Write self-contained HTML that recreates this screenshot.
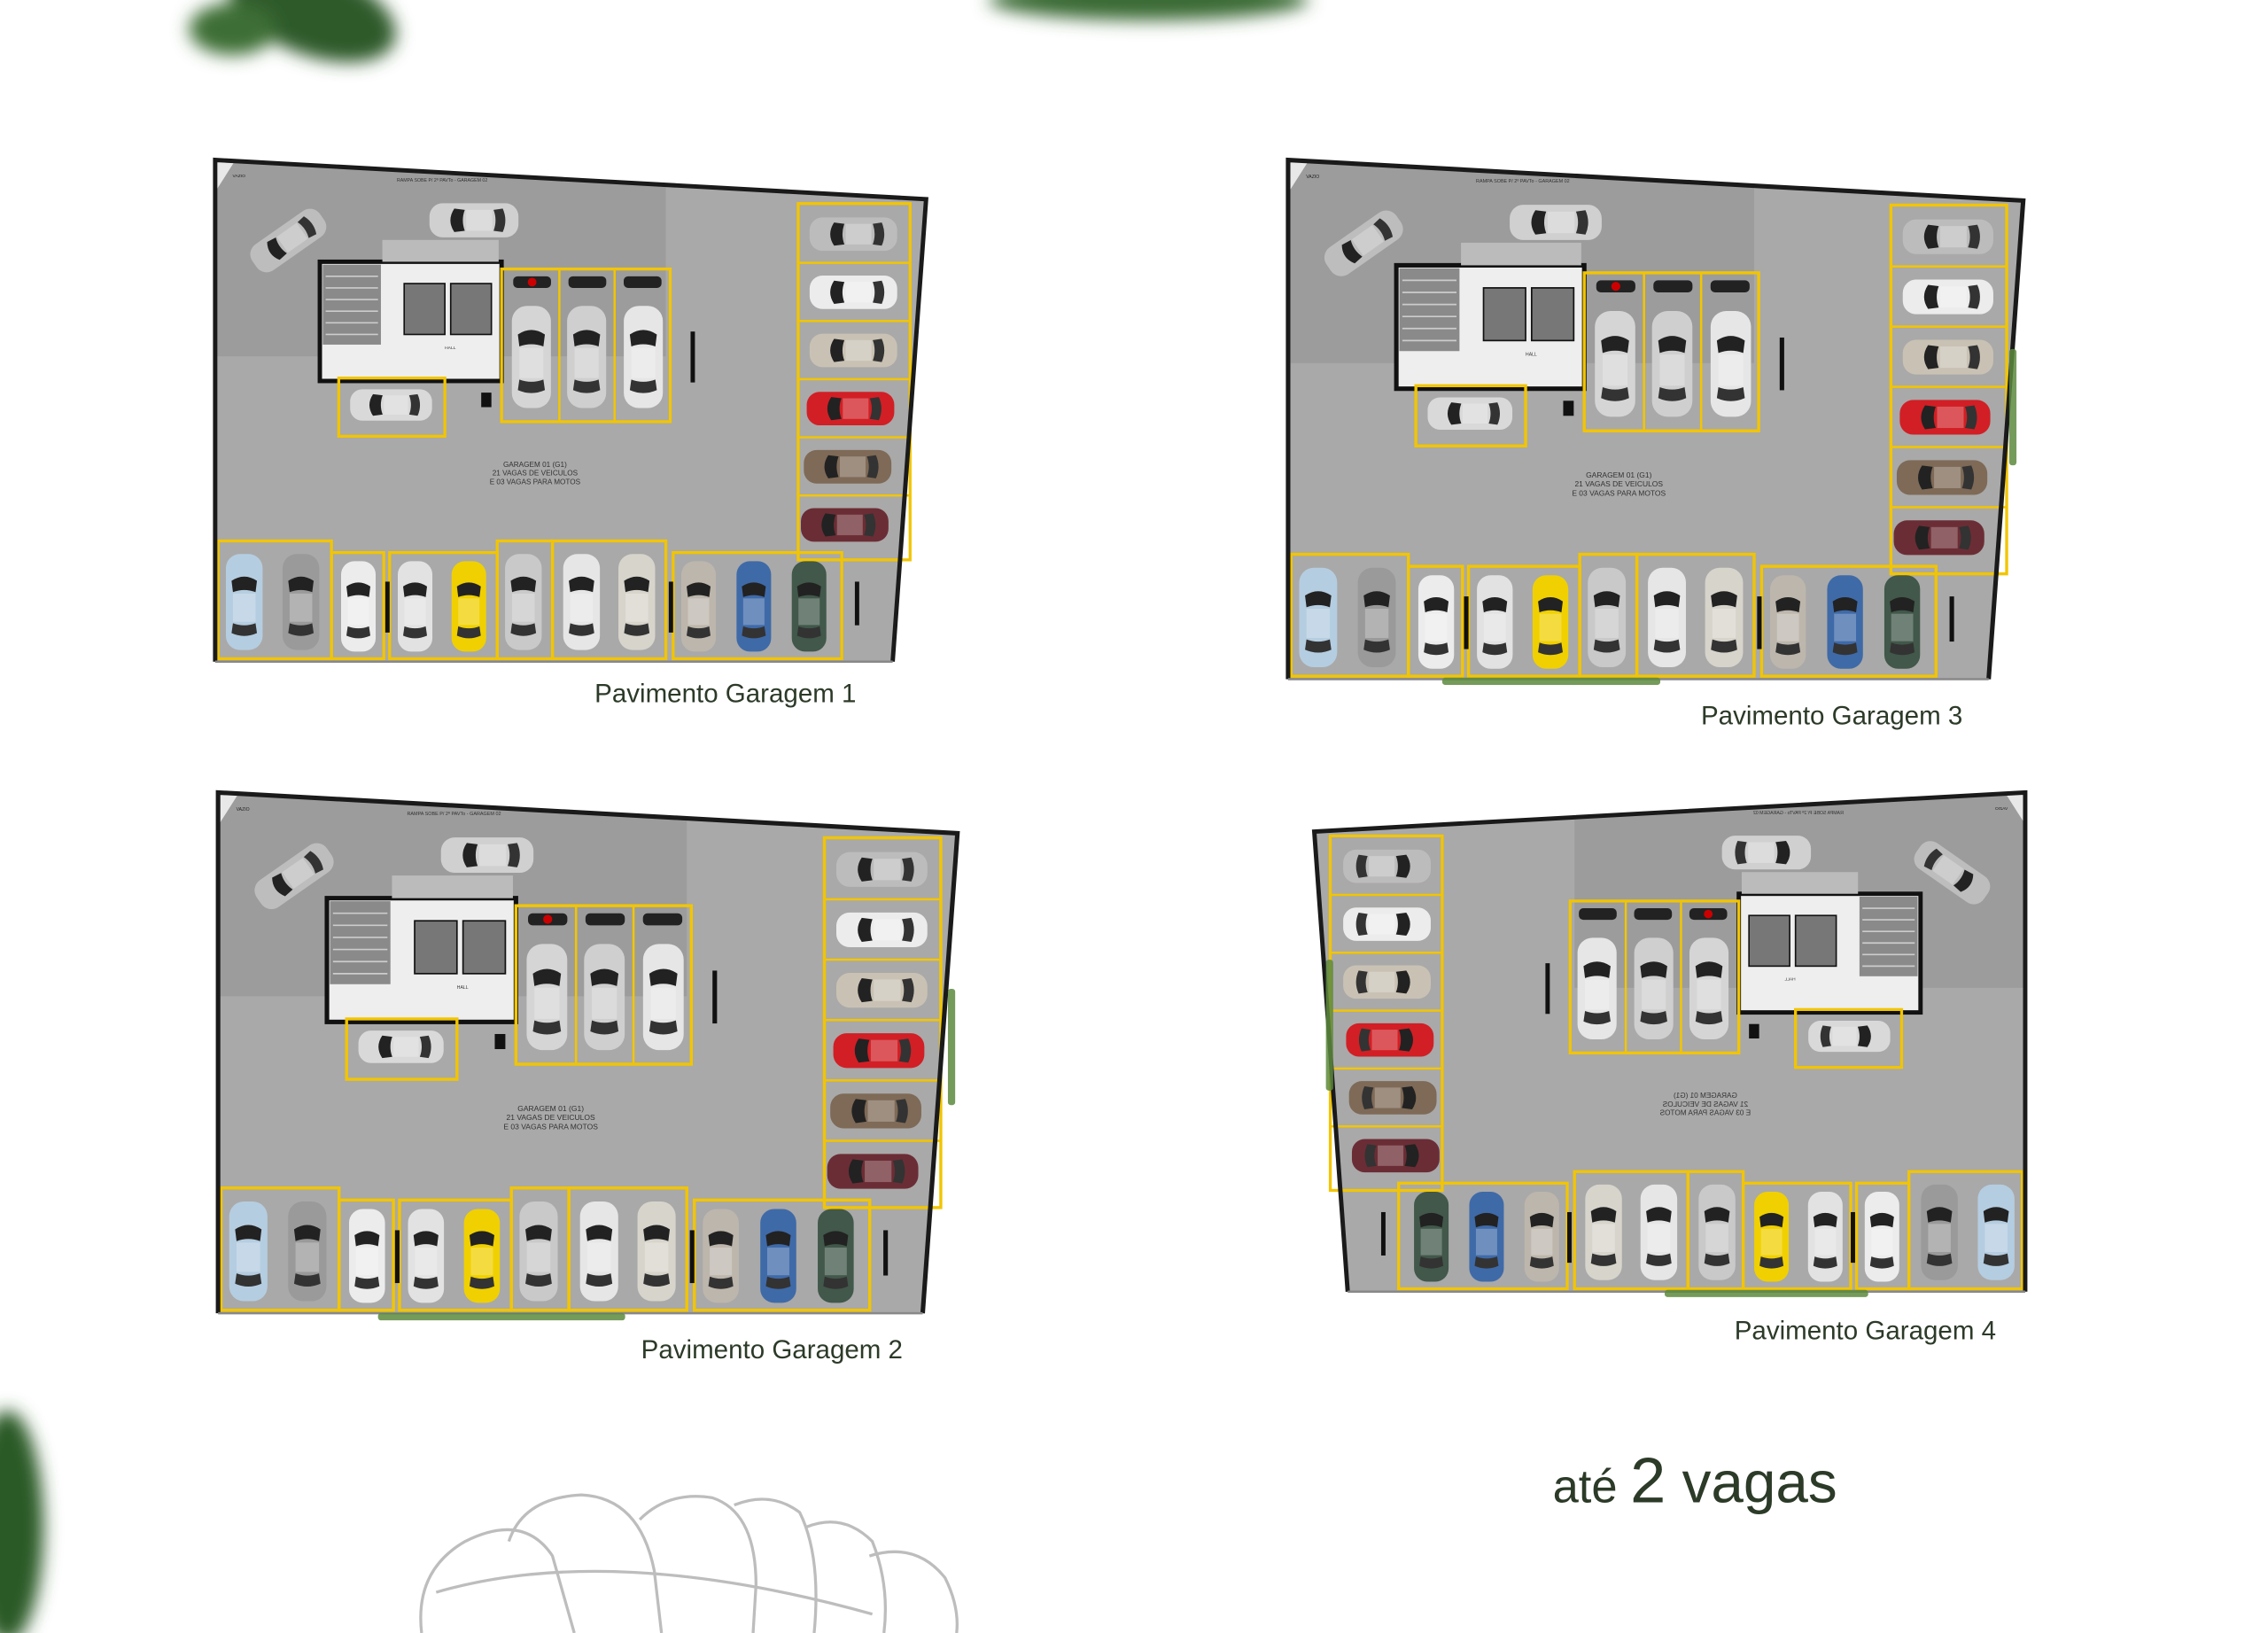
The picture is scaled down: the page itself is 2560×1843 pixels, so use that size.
<!DOCTYPE html>
<html><head><meta charset="utf-8"><style>
html,body{margin:0;padding:0;background:#fff;}
svg{display:block}
</style></head><body>
<svg width="2560" height="1843" viewBox="0 0 1560 1123" preserveAspectRatio="none" xmlns="http://www.w3.org/2000/svg">
<defs>
<filter id="bl" x="-50%" y="-50%" width="200%" height="200%"><feGaussianBlur stdDeviation="6"/></filter>
<symbol id="cv" viewBox="0 0 30 70">
 <rect x="2" y="1" width="26" height="68" rx="10"/>
 <path d="M6 20 Q15 14 24 20 L23 28 Q15 25 7 28Z" fill="#222"/>
 <path d="M7 50 Q15 53 23 50 L24 57 Q15 61 6 57Z" fill="#333"/>
 <rect x="7" y="29" width="16" height="20" fill="#fff" opacity=".25"/>
</symbol>
<symbol id="ch" viewBox="0 0 70 30">
 <rect x="1" y="2" width="68" height="26" rx="10"/>
 <path d="M20 6 Q14 15 20 24 L28 23 Q25 15 28 7Z" fill="#222"/>
 <path d="M50 7 Q53 15 50 23 L57 24 Q61 15 57 6Z" fill="#333"/>
 <rect x="29" y="7" width="20" height="16" fill="#fff" opacity=".25"/>
</symbol>
<g id="plan">
 <polygon points="0,0 489,27 466,345 0,345" fill="#a9a9a9"/>
 <polygon points="0,0 310,17 310,135 0,135" fill="#9c9c9c"/>
 <polygon points="0,0 14,0 0,22" fill="#e8e8e8"/>
 <text x="12" y="12" font-size="3" fill="#222" font-family="Liberation Sans,sans-serif">VAZIO</text>
 <!-- core -->
 <rect x="72" y="70" width="125" height="82" fill="#eee" stroke="#111" stroke-width="3"/>
 <rect x="74" y="72" width="40" height="55" fill="#8a8a8a"/>
 <g stroke="#ccc" stroke-width="1"><line x1="76" y1="80" x2="112" y2="80"/><line x1="76" y1="88" x2="112" y2="88"/><line x1="76" y1="96" x2="112" y2="96"/><line x1="76" y1="104" x2="112" y2="104"/><line x1="76" y1="112" x2="112" y2="112"/><line x1="76" y1="120" x2="112" y2="120"/></g>
 <rect x="130" y="85" width="28" height="35" fill="#777" stroke="#111"/>
 <rect x="162" y="85" width="28" height="35" fill="#777" stroke="#111"/>
 <rect x="115" y="55" width="80" height="15" fill="#bbb"/>
 <text x="158" y="130" font-size="3" fill="#333" font-family="Liberation Sans,sans-serif">HALL</text>
 <text x="125" y="15" font-size="3.2" fill="#333" font-family="Liberation Sans,sans-serif">RAMPA SOBE P/ 2º PAVTo - GARAGEM 02</text>
 <!-- top cars -->
 <use href="#ch" x="145" y="28" width="66" height="27" fill="#d0d0d0"/>
 <g transform="translate(50,55) rotate(-35)"><use href="#ch" x="-32" y="-12" width="64" height="25" fill="#bdbdbd"/></g>
 <!-- middle bays -->
 <rect x="197" y="75" width="116" height="105" fill="none" stroke="#f2c500" stroke-width="2"/>
 <g fill="#f2c500"><rect x="236" y="75" width="1.5" height="105"/><rect x="274" y="75" width="1.5" height="105"/></g>
 <g fill="#222"><rect x="205" y="80" width="26" height="8" rx="3"/><rect x="243" y="80" width="26" height="8" rx="3"/><rect x="281" y="80" width="26" height="8" rx="3"/></g>
 <circle cx="218" cy="84" r="3" fill="#c00"/>
 <use href="#cv" x="202" y="98" width="31" height="75" fill="#d5d5d5"/>
 <use href="#cv" x="240" y="98" width="31" height="75" fill="#cfcfcf"/>
 <use href="#cv" x="279" y="98" width="31" height="75" fill="#e6e6e6"/>
 <rect x="327" y="118" width="3" height="35" fill="#111"/>
 <rect x="183" y="160" width="7" height="10" fill="#111"/>
 <!-- 25 -->
 <rect x="85" y="150" width="73" height="40" fill="none" stroke="#f2c500" stroke-width="2"/>
 <use href="#ch" x="92" y="155" width="58" height="27" fill="#d9d9d9"/>
 <!-- label -->
 <g font-family="Liberation Sans,sans-serif" font-size="5" fill="#333" text-anchor="middle">
 <text x="220" y="211">GARAGEM 01 (G1)</text><text x="220" y="217">21 VAGAS  DE VEICULOS</text><text x="220" y="223">E 03 VAGAS PARA MOTOS</text></g>
 <!-- right column -->
 <rect x="401" y="30" width="77" height="245" fill="none" stroke="#f2c500" stroke-width="2"/>
 <g fill="#f2c500"><rect x="401" y="70" width="77" height="1.5"/><rect x="401" y="110" width="77" height="1.5"/><rect x="401" y="150" width="77" height="1.5"/><rect x="401" y="190" width="77" height="1.5"/><rect x="401" y="230" width="77" height="1.5"/></g>
 <use href="#ch" x="408" y="36" width="62" height="30" fill="#bcbcbc"/>
 <use href="#ch" x="408" y="76" width="62" height="30" fill="#ececec"/>
 <use href="#ch" x="408" y="116" width="62" height="30" fill="#c9c2b4"/>
 <use href="#ch" x="406" y="156" width="62" height="30" fill="#d11f25"/>
 <use href="#ch" x="404" y="196" width="62" height="30" fill="#7e6a57"/>
 <use href="#ch" x="402" y="236" width="62" height="30" fill="#6b2d35"/>
 <!-- bottom row -->
 <g fill="none" stroke="#f2c500" stroke-width="2">
 <rect x="2" y="262" width="78" height="81"/><rect x="80" y="270" width="36" height="73"/>
 <rect x="120" y="270" width="74" height="73"/><rect x="194" y="262" width="38" height="81"/>
 <rect x="232" y="262" width="78" height="81"/><rect x="315" y="270" width="116" height="73"/>
 </g>
 <use href="#cv" x="5" y="270" width="30" height="68" fill="#b5cde0"/>
 <use href="#cv" x="44" y="270" width="30" height="68" fill="#9a9a9a"/>
 <use href="#cv" x="84" y="275" width="29" height="64" fill="#ececec"/>
 <use href="#cv" x="123" y="275" width="29" height="64" fill="#e2e2e2"/>
 <use href="#cv" x="160" y="275" width="29" height="64" fill="#f0d000"/>
 <use href="#cv" x="197" y="270" width="30" height="68" fill="#c9c9c9"/>
 <use href="#cv" x="237" y="270" width="30" height="68" fill="#e6e6e6"/>
 <use href="#cv" x="275" y="270" width="30" height="68" fill="#d7d4cb"/>
 <use href="#cv" x="318" y="275" width="29" height="64" fill="#bdb6ac"/>
 <use href="#cv" x="356" y="275" width="29" height="64" fill="#3f6aa8"/>
 <use href="#cv" x="394" y="275" width="29" height="64" fill="#41584a"/>
 <g fill="#111"><rect x="117" y="290" width="3" height="35"/><rect x="312" y="290" width="3" height="35"/><rect x="440" y="290" width="3" height="30"/></g>
 <polyline points="0,345 0,0 489,27 466,345" fill="none" stroke="#1a1a1a" stroke-width="3"/>
 <line x1="0" y1="345" x2="466" y2="345" stroke="#888" stroke-width="1.5"/>
</g>
</defs>

<!-- leaves -->
<g filter="url(#bl)" fill="#2f5a2a">
 <ellipse cx="215" cy="8" rx="60" ry="30" transform="rotate(20 215 8)"/>
 <ellipse cx="160" cy="20" rx="30" ry="18" fill="#3d6e34"/>
 <ellipse cx="790" cy="0" rx="110" ry="14" fill="#3a6a34"/>
 <ellipse cx="5" cy="1050" rx="25" ry="80" fill="#2c5a27"/>
</g>

<!-- plans -->
<use href="#plan" transform="translate(148,110)"/>
<use href="#plan" transform="translate(886,110) scale(1.034,1.035)"/>
<use href="#plan" transform="translate(150,545) scale(1.04,1.038)"/>
<use href="#plan" transform="translate(1393,545) scale(-1,0.995)"/>

<!-- bushes -->
<g fill="#5d8a3e" opacity=".85">
 <rect x="992" y="466" width="150" height="5" rx="2"/>
 <rect x="1382" y="240" width="5" height="80" rx="2"/>
 <rect x="260" y="903" width="170" height="5" rx="2"/>
 <rect x="652" y="680" width="5" height="80" rx="2"/>
 <rect x="1145" y="887" width="140" height="5" rx="2"/>
 <rect x="912" y="660" width="5" height="90" rx="2"/>
</g>

<!-- captions -->
<g font-family="Liberation Sans,sans-serif" font-size="18" fill="#2c3a28">
 <text x="409" y="483">Pavimento Garagem 1</text>
 <text x="1170" y="498">Pavimento Garagem 3</text>
 <text x="441" y="934">Pavimento Garagem 2</text>
 <text x="1193" y="921">Pavimento Garagem 4</text>
</g>
<text x="1068" y="1033" font-family="Liberation Sans,sans-serif" fill="#2c3a28"><tspan font-size="32">até </tspan><tspan font-size="44">2</tspan><tspan font-size="40"> vagas</tspan></text>

<!-- line art leaf -->
<g fill="none" stroke="#bdbdbd" stroke-width="2">
 <path d="M290 1123 Q285 1080 320 1060 Q360 1040 380 1070 L395 1123"/>
 <path d="M350 1060 Q360 1030 400 1028 Q440 1030 450 1080 L455 1123"/>
 <path d="M440 1045 Q460 1025 490 1030 Q520 1040 520 1090 L518 1123"/>
 <path d="M505 1035 Q530 1025 550 1040 Q565 1070 560 1123"/>
 <path d="M555 1050 Q580 1040 600 1060 Q612 1090 608 1123"/>
 <path d="M598 1070 Q630 1060 650 1085 Q660 1105 658 1123"/>
 <path d="M300 1095 Q420 1060 600 1110"/>
</g>
</svg>
</body></html>
